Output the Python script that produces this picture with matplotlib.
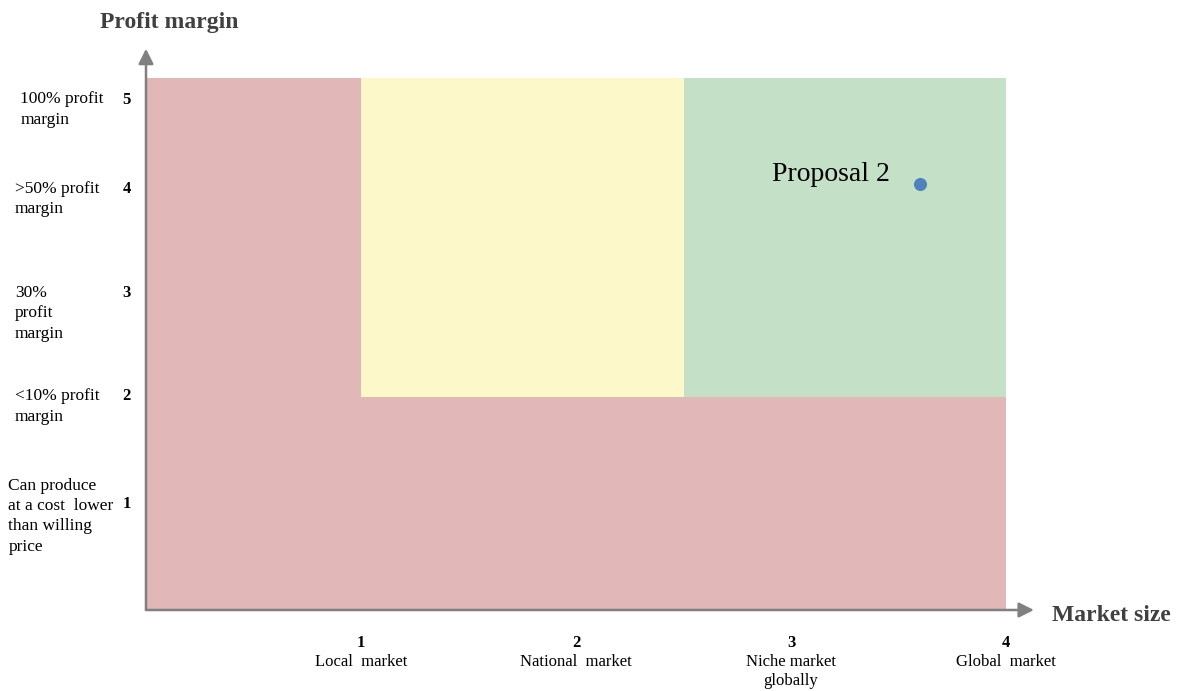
import matplotlib.pyplot as plt
from matplotlib.patches import Rectangle

# data
x_ticks = [1, 2, 3, 4]
x_labels = ['Local  market', 'National  market', 'Niche market\nglobally', 'Global  market']
y_ticks = [5, 4, 3, 2, 1]
y_labels = ['100% profit\nmargin', '>50% profit\nmargin', '30%\nprofit\nmargin',
            '<10% profit\nmargin', 'Can produce\nat a cost  lower\nthan willing\nprice']
# zones: (x0, x1, y0, y1, color)
zones = [
    (0, 1, 0, 5, '#e1b7b8'),
    (1, 4, 0, 2, '#e1b7b8'),
    (1, 2.5, 2, 5, '#fdf8c9'),
    (2.5, 4, 2, 5, '#c4e1c8'),
]
proposal_name = 'Proposal 2'
proposal_x = 3.6
proposal_y = 4.0

plt.rcParams['font.family'] = ['Liberation Serif', 'DejaVu Serif']

fig = plt.figure(figsize=(11.81, 6.91), dpi=100)
ax = fig.add_axes([0, 0, 1, 1])
ax.set_xlim(-146 / 215, (1181 - 146) / 215)
ax.set_ylim(-(691 - 610) / 106.5, 610 / 106.5)
ax.axis('off')

for x0, x1, y0, y1, c in zones:
    ax.add_patch(Rectangle((x0, y0), x1 - x0, y1 - y0, facecolor=c, edgecolor='none', zorder=1))

# axes with arrows
arrow = dict(arrowstyle='-|>,head_length=0.9,head_width=0.45', color='#808080', lw=1.8,
             shrinkA=0, shrinkB=0)
ax.annotate('', xy=(4.13, 0), xytext=(0, 0), arrowprops=arrow, zorder=3)
ax.annotate('', xy=(0, 5.27), xytext=(0, 0), arrowprops=arrow, zorder=3)

ax.text(0.107, 5.52, 'Profit margin', ha='center', va='center', fontsize=17,
        fontweight='bold', color='#404040')
ax.text(4.214, -0.05, 'Market size', ha='left', va='center', fontsize=17,
        fontweight='bold', color='#404040')

# x tick labels
for x, lab in zip(x_ticks, x_labels):
    ax.text(x, -0.31, str(x), ha='center', va='center', fontsize=12, fontweight='bold')
    ax.text(x, -0.41, lab, ha='center', va='top', fontsize=12, linespacing=1.25)

# y tick labels (vertical offsets follow the picture)
y_pos = [4.79, 3.95, 2.98, 2.01, 1.0]
y_text_x = [-0.585, -0.61, -0.61, -0.61, -0.64]
y_text_top = [4.87, 4.03, 3.05, 2.08, 1.24]
for v, pos, lab, tx, top in zip(y_ticks, y_pos, y_labels, y_text_x, y_text_top):
    ax.text(-0.07, pos, str(v), ha='right', va='center', fontsize=12, fontweight='bold')
    ax.text(tx, top, lab, ha='left', va='top', fontsize=12.5, linespacing=1.35)

ax.scatter([proposal_x], [proposal_y], s=70, color='#4f81bd', zorder=4)
ax.text(proposal_x - 0.14, proposal_y + 0.09, proposal_name, ha='right', va='center', fontsize=20)

fig.savefig('out.png', dpi=100)
